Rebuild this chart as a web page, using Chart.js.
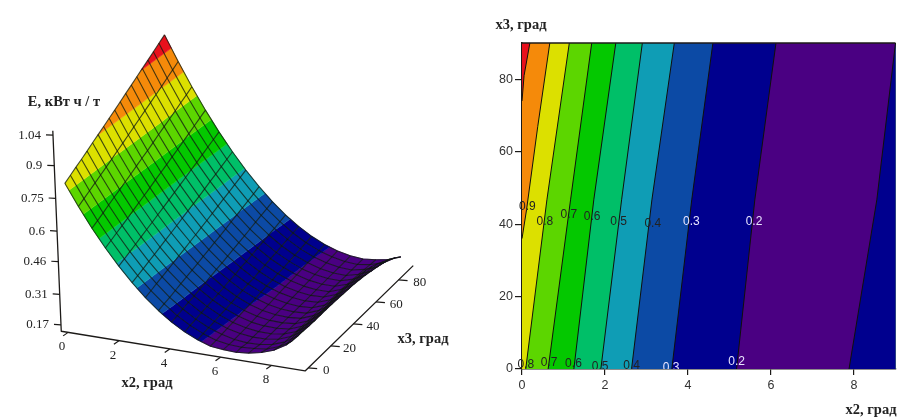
<!DOCTYPE html>
<html><head><meta charset="utf-8">
<style>html,body{margin:0;padding:0;background:#fff;width:908px;height:417px;overflow:hidden}
canvas{position:absolute;top:0;filter:blur(0.35px)}</style>
<script src="https://cdn.jsdelivr.net/npm/chart.js@4"></script>
</head><body>
<canvas id="surface" width="480" height="417" style="left:0"></canvas>
<canvas id="contour" width="428" height="417" style="left:480px"></canvas>
<script>
// ---------- data ----------
const x2Grid = [0,0.5,1,1.5,2,2.5,3,3.5,4,4.5,5,5.5,6,6.5,7,7.5,8,8.5,9];
const x3Grid = [0,5,10,15,20,25,30,35,40,45,50,55,60,65,70,75,80,85,90];
// E along x3, one list per x2 value
const E_x2_00 = [.829,.841,.853,.864,.876,.889,.901,.913,.926,.938,.951,.964,.977,.990,1.003,1.016,1.029,1.043,1.056];
const E_x2_05 = [.732,.743,.754,.765,.776,.787,.798,.810,.821,.833,.845,.857,.869,.881,.893,.905,.918,.930,.943];
const E_x2_10 = [.642,.652,.662,.673,.683,.693,.704,.714,.725,.736,.746,.757,.769,.780,.791,.802,.814,.825,.837];
const E_x2_15 = [.561,.570,.579,.588,.597,.607,.617,.626,.636,.646,.656,.666,.676,.686,.697,.707,.718,.729,.739];
const E_x2_20 = [.487,.495,.503,.512,.520,.529,.537,.546,.555,.564,.573,.582,.591,.601,.610,.620,.630,.639,.649];
const E_x2_25 = [.421,.428,.435,.443,.450,.458,.466,.473,.481,.490,.498,.506,.514,.523,.532,.540,.549,.558,.567];
const E_x2_30 = [.362,.368,.375,.381,.388,.395,.402,.409,.416,.423,.430,.438,.445,.453,.461,.468,.476,.484,.492];
const E_x2_35 = [.311,.317,.322,.328,.334,.340,.346,.352,.358,.364,.371,.377,.384,.391,.397,.404,.411,.418,.426];
const E_x2_40 = [.268,.273,.278,.283,.287,.292,.297,.303,.308,.313,.319,.324,.330,.336,.342,.348,.354,.360,.367];
const E_x2_45 = [.233,.237,.241,.245,.249,.253,.257,.261,.266,.270,.275,.279,.284,.289,.294,.299,.304,.310,.315];
const E_x2_50 = [.206,.209,.211,.215,.218,.221,.224,.227,.231,.235,.238,.242,.246,.250,.254,.258,.263,.267,.272];
const E_x2_55 = [.186,.188,.190,.192,.194,.197,.199,.201,.204,.207,.210,.213,.216,.219,.222,.225,.229,.232,.236];
const E_x2_60 = [.180,.178,.176,.178,.179,.180,.182,.183,.185,.187,.189,.191,.193,.195,.197,.200,.202,.205,.208];
const E_x2_65 = [.177,.175,.170,.171,.171,.172,.172,.173,.174,.175,.176,.177,.178,.179,.181,.182,.184,.186,.188];
const E_x2_70 = [.183,.179,.172,.172,.171,.171,.170,.170,.170,.170,.170,.170,.171,.171,.172,.172,.173,.174,.175];
const E_x2_75 = [.195,.186,.182,.180,.179,.177,.176,.175,.174,.173,.173,.172,.171,.171,.171,.170,.170,.170,.170];
const E_x2_80 = [.215,.207,.203,.202,.200,.199,.198,.197,.196,.195,.194,.193,.192,.190,.188,.185,.182,.179,.176];
const E_x2_85 = [.248,.241,.238,.237,.234,.233,.233,.233,.232,.231,.229,.227,.225,.221,.216,.209,.202,.195,.186];
const E_x2_90 = [.322,.318,.316,.315,.311,.310,.312,.312,.312,.311,.307,.303,.299,.290,.278,.263,.247,.229,.208];
const surfaceE = [E_x2_00,E_x2_05,E_x2_10,E_x2_15,E_x2_20,E_x2_25,E_x2_30,E_x2_35,E_x2_40,E_x2_45,E_x2_50,E_x2_55,E_x2_60,E_x2_65,E_x2_70,E_x2_75,E_x2_80,E_x2_85,E_x2_90];

const bandEdges  = [-1,0.2,0.3,0.4,0.5,0.6,0.7,0.8,0.9,1.0,9];
const bandColors = ['#4a0082','#00008e','#0c4aa5','#0f9db5','#00bf68','#04c800','#5cd600','#dce000','#f58a0a','#e8101c'];

const zTicks  = [0.17,0.31,0.46,0.6,0.75,0.9,1.04];
const x2Ticks = [0,2,4,6,8];
const x3Ticks = [0,20,40,60,80];

// contour crossings: x2 at the sampled x3 values
const contourX3 = [0,46.7,90];
const c08 = [0.09,0.60,1.14];
const c07 = [0.63,1.17,1.68];
const c06 = [1.25,1.73,2.26];
const c05 = [1.90,2.40,2.90];
const c04 = [2.64,3.13,3.67];
const c03 = [3.61,4.09,4.60];
const c02a = [5.17,5.61,6.12];
const c02b = [7.88,8.55,9.0];
const c09x3 = [36,44,67,90], c09x2 = [0,0.11,0.38,0.67];
const c10x3 = [74,81,90],    c10x2 = [0,0.05,0.19];

const labelTexts = ['0.9','0.8','0.7','0.6','0.5','0.4','0.3','0.2','0.8','0.7','0.6','0.5','0.4','0.3','0.2'];
const labelX2 = [0.13,0.55,1.13,1.69,2.33,3.15,4.08,5.59,0.09,0.65,1.24,1.88,2.64,3.59,5.17];
const labelX3 = [44.7,40.8,42.5,42,40.8,40.2,40.8,40.8,1.1,1.8,1.5,0.6,0.9,0.5,2];
const labelColors = ['#222','#222','#222','#222','#222','#222','#e8e4ff','#e8e4ff','#222','#222','#222','#222','#222','#e8e4ff','#e8e4ff'];

// ---------- helpers ----------
const DARK = '#1c1a18';
const SERIF = '"Liberation Serif", serif';
const SANS = '"Liberation Sans", sans-serif';
function project(x2,x3,z,dy){
  return {x:70.9+25.4*x2+1.13*x3-9.2*(z-0.17),
          y:327+4.13*x2-1.1*x3-218*(z-0.17)+(dy||0)};
}
const AX_Z=0.1406, AX_DY=-4, AX_X3=-2.7, AX_X2A=-0.27, AX_X2B=9.33;
const axisPt=(x2,x3,z)=>project(x2,x3,z,AX_DY);

function clipE(poly,lim,keepAbove){
  const out=[];
  for(let i=0;i<poly.length;i++){
    const a=poly[i],b=poly[(i+1)%poly.length];
    const ai=keepAbove?a.e>=lim:a.e<=lim, bi=keepAbove?b.e>=lim:b.e<=lim;
    if(ai)out.push(a);
    if(ai!==bi){
      const t=(lim-a.e)/(b.e-a.e);
      out.push({a:a.a+t*(b.a-a.a),b:a.b+t*(b.b-a.b),e:lim});
    }
  }
  return out;
}
function lineDs(data,color,width){
  return {data,showLine:true,pointRadius:0,borderColor:color,borderWidth:width,fill:false,tension:0,borderJoinStyle:'round',clip:false};
}
function polyDs(data,color,seam){
  return {data,showLine:true,pointRadius:0,borderColor:color,borderWidth:seam,backgroundColor:color,fill:'shape',tension:0,clip:false};
}
function inOrder(ds){ds.forEach((d,i)=>d.order=ds.length-i);return ds;}

// ---------- left: projected surface ----------
const leftDs=[];
const PURPLE_FROM=14; // the surface stays in the lowest colour past the trough
for(let j=0;j<x3Grid.length-1;j++){
  for(let i=0;i<x2Grid.length-1;i++){
    const cell=[[i,j],[i+1,j],[i+1,j+1],[i,j+1]].map(([p,q])=>({a:x2Grid[p],b:x3Grid[q],e:surfaceE[p][q]}));
    if(i>=PURPLE_FROM){
      leftDs.push(polyDs(cell.map(v=>project(v.a,v.b,v.e)),bandColors[0],0.7));
      continue;
    }
    bandColors.forEach((col,k)=>{
      let piece=clipE(cell,bandEdges[k],true);
      if(piece.length)piece=clipE(piece,bandEdges[k+1],false);
      if(piece.length>2)leftDs.push(polyDs(piece.map(v=>project(v.a,v.b,v.e)),col,0.7));
    });
  }
}
const MESH='rgba(14,24,12,0.75)';
x3Grid.forEach((v,j)=>leftDs.push(lineDs(x2Grid.map((u,i)=>project(u,v,surfaceE[i][j])),MESH,1.1)));
x2Grid.forEach((u,i)=>leftDs.push(lineDs(x3Grid.map((v,j)=>project(u,v,surfaceE[i][j])),MESH,1.1)));

// axes of the 3-D box
leftDs.push(lineDs([axisPt(AX_X2A,AX_X3,1.06),axisPt(AX_X2A,AX_X3,AX_Z),axisPt(AX_X2B,AX_X3,AX_Z),axisPt(AX_X2B,93,AX_Z)],DARK,1.3));
zTicks.forEach(v=>{const p=axisPt(AX_X2A,AX_X3,v);leftDs.push(lineDs([p,{x:p.x-7,y:p.y-0.4}],DARK,1.2));});
x2Ticks.forEach(v=>{const p=axisPt(v,AX_X3,AX_Z);leftDs.push(lineDs([p,{x:p.x-5,y:p.y+3.5}],DARK,1.2));});
x3Ticks.forEach(v=>{const p=axisPt(AX_X2B,v,AX_Z);leftDs.push(lineDs([p,{x:p.x+9,y:p.y+0.7}],DARK,1.2));});

const leftText={id:'leftText',afterDraw(c){
  const g=c.ctx,sx=c.scales.x,sy=c.scales.y;
  const put=(t,x,y,font,al)=>{g.font=font;g.textAlign=al||'center';g.textBaseline='middle';g.fillStyle='#222';
    g.fillText(t,sx.getPixelForValue(x),sy.getPixelForValue(y));};
  g.save();
  zTicks.forEach(v=>{const p=axisPt(AX_X2A,AX_X3,v);put(String(v),p.x-12,p.y,'13px '+SERIF,'right');});
  x2Ticks.forEach(v=>{const p=axisPt(v,AX_X3,AX_Z);put(String(v),p.x-6+v*0.1,p.y+14.5,'13px '+SERIF);});
  x3Ticks.forEach(v=>{const p=axisPt(AX_X2B,v,AX_Z);put(String(v),p.x+18+v*0.04,p.y+2.5,'13px '+SERIF);});
  put('E, кВт ч / т',64,102,'bold 14.5px '+SERIF);
  put('x2, град',147,383,'bold 14.5px '+SERIF);
  put('x3, град',423,339,'bold 14.5px '+SERIF);
  g.restore();
}};
new Chart(document.getElementById('surface'),{type:'scatter',
  data:{datasets:inOrder(leftDs)},
  plugins:[leftText],
  options:{responsive:false,animation:false,events:[],
    layout:{padding:0},
    plugins:{legend:{display:false},tooltip:{enabled:false}},
    scales:{x:{type:'linear',display:false,min:0,max:480},
            y:{type:'linear',display:false,min:0,max:417,reverse:true}}}});

// ---------- right: contour map ----------
const contours=[
  {xs:c10x2,ys:c10x3,col:bandColors[8]},
  {xs:c09x2,ys:c09x3,col:bandColors[7]},
  {xs:c08,ys:contourX3,col:bandColors[6]},
  {xs:c07,ys:contourX3,col:bandColors[5]},
  {xs:c06,ys:contourX3,col:bandColors[4]},
  {xs:c05,ys:contourX3,col:bandColors[3]},
  {xs:c04,ys:contourX3,col:bandColors[2]},
  {xs:c03,ys:contourX3,col:bandColors[1]},
  {xs:c02a,ys:contourX3,col:bandColors[0]},
  {xs:c02b,ys:contourX3,col:bandColors[1]}
];
const rightDs=[];
rightDs.push(polyDs([{x:0,y:0},{x:0,y:90},{x:9,y:90},{x:9,y:0}],bandColors[9],0));
contours.forEach(c=>{
  const pts=c.xs.map((v,i)=>({x:v,y:c.ys[i]}));
  const shape=(c.ys[0]>0?[{x:0,y:0}]:[]).concat(pts,[{x:9,y:90},{x:9,y:0}]);
  rightDs.push(polyDs(shape,c.col,0));
});
contours.forEach(c=>rightDs.push(lineDs(c.xs.map((v,i)=>({x:v,y:c.ys[i]})),'#10100c',1)));
rightDs.push(lineDs([{x:0,y:90},{x:9,y:90}],DARK,1.3));

const rightText={id:'rightText',afterDraw(c){
  const g=c.ctx,sx=c.scales.x,sy=c.scales.y,a=c.chartArea;
  g.save();
  g.beginPath();g.rect(0,0,c.width,a.bottom);g.clip();
  g.font='12px '+SANS;g.textAlign='center';g.textBaseline='middle';
  labelTexts.forEach((t,i)=>{g.fillStyle=labelColors[i];
    g.fillText(t,sx.getPixelForValue(labelX2[i]),sy.getPixelForValue(labelX3[i]));});
  g.restore();
  g.save();
  g.fillStyle='#222';g.font='bold 14.5px '+SERIF;g.textBaseline='middle';g.textAlign='center';
  g.fillText('x3, град',41,25);
  g.fillText('x2, град',391,410);
  g.restore();
}};
const tickFont={family:'"Liberation Sans", sans-serif',size:12.5};
new Chart(document.getElementById('contour'),{type:'scatter',
  data:{datasets:inOrder(rightDs)},
  plugins:[rightText],
  options:{responsive:false,animation:false,events:[],
    layout:{padding:{left:0,right:12.5,top:43,bottom:0}},
    plugins:{legend:{display:false},tooltip:{enabled:false}},
    scales:{
      x:{type:'linear',min:0,max:9,z:1,
         afterBuildTicks(s){s.ticks=x2Ticks.map(v=>({value:v}));},
         afterFit(s){s.height=48;},
         grid:{drawOnChartArea:false,drawTicks:true,tickLength:6,color:DARK,lineWidth:1.2},
         border:{display:true,color:DARK,width:1.5},
         ticks:{font:tickFont,color:'#333',padding:3,maxRotation:0,autoSkip:false}},
      y:{type:'linear',min:0,max:90,z:1,
         afterBuildTicks(s){s.ticks=x3Ticks.map(v=>({value:v}));},
         afterFit(s){s.width=42;},
         grid:{drawOnChartArea:false,drawTicks:true,tickLength:7,color:DARK,lineWidth:1.2},
         border:{display:true,color:DARK,width:1.5},
         ticks:{font:tickFont,color:'#333',padding:2,autoSkip:false}}
    }}});
</script>
</body></html>
